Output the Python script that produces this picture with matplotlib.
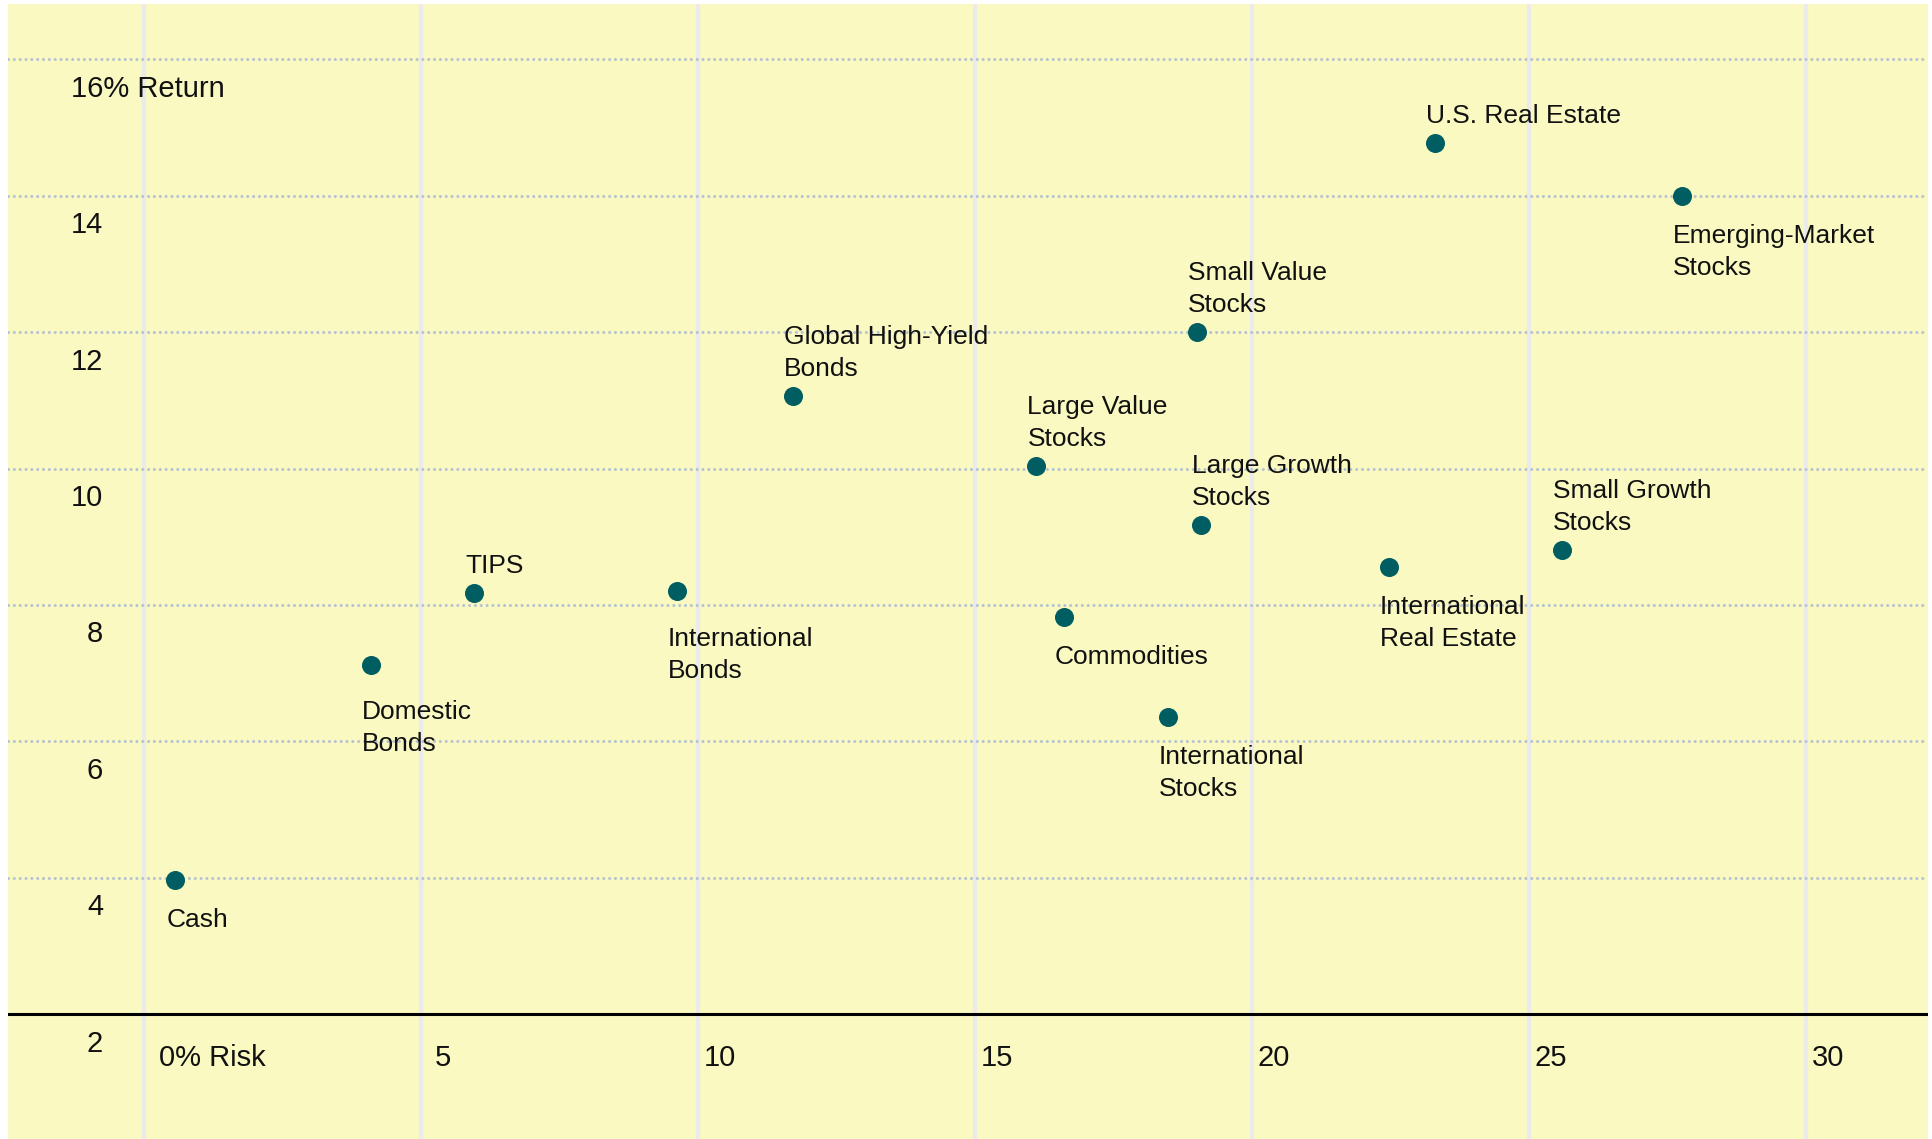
import matplotlib
matplotlib.use("Agg")
import matplotlib.pyplot as plt

plt.rcParams['font.family'] = ['Liberation Sans', 'DejaVu Sans']

# asset classes: annualised risk (std dev, %) vs return (%)
assets = ["Cash", "Domestic\nBonds", "TIPS", "International\nBonds",
          "Global High-Yield\nBonds", "Large Value\nStocks", "Commodities",
          "International\nStocks", "Small Value\nStocks", "Large Growth\nStocks",
          "International\nReal Estate", "Small Growth\nStocks",
          "U.S. Real Estate", "Emerging-Market\nStocks"]
risk = [0.56, 4.09, 5.96, 9.62, 11.71, 16.11, 16.61, 18.48, 19.01, 19.08,
        22.47, 25.60, 23.31, 27.76]
ret = [3.97, 7.12, 8.17, 8.20, 11.06, 10.03, 7.82, 6.35, 12.00, 9.17,
       8.56, 8.80, 14.77, 14.00]

x_ticks = [0, 5, 10, 15, 20, 25, 30]
x_labels = ["0% Risk", "5", "10", "15", "20", "25", "30"]
y_ticks = [2, 4, 6, 8, 10, 12, 14, 16]
y_labels = ["2", "4", "6", "8", "10", "12", "14", "16% Return"]

# which side of the dot each name sits on
above = {"TIPS", "Global High-Yield\nBonds", "Large Value\nStocks",
         "Small Value\nStocks", "Large Growth\nStocks", "Small Growth\nStocks",
         "U.S. Real Estate"}
extra_drop = {"Domestic\nBonds": 7, "International\nBonds": 8}

BG = '#FAF9C1'
TEAL = '#005E62'
PX = 0.72  # points per pixel at 100 dpi

fig = plt.figure(figsize=(19.33, 11.39), dpi=100)
ax = fig.add_axes([8 / 1933, 0, 1920 / 1933, 1135 / 1139])
ax.set_facecolor(BG)
ax.set_xlim(-2.46, 32.21)
ax.set_ylim(0.17, 16.81)
for s in ax.spines.values():
    s.set_visible(False)
ax.set_xticks([])
ax.set_yticks([])

for x in x_ticks:
    ax.axvline(x, color='#EBEBEB', lw=3, zorder=1)
for y in y_ticks[1:]:
    ax.axhline(y, color='#B6C2D2', lw=2.2, dashes=(0.01, 1.9),
               dash_capstyle='round', zorder=2)
ax.axhline(y_ticks[0], color='black', lw=2.2, zorder=3)

ax.scatter(risk, ret, s=13.7 ** 2, color=TEAL, linewidths=0, zorder=4)

for name, x, y in zip(assets, risk, ret):
    lines = name.split("\n")
    if name in above:
        offs = [20 + 32 * k for k in range(len(lines))][::-1]
    else:
        d = 47 + extra_drop.get(name, 0)
        offs = [-(d + 32 * k) for k in range(len(lines))]
    for line, dy in zip(lines, offs):
        ax.annotate(line, (x, y), xytext=(-9 * PX, dy * PX),
                    textcoords='offset points', ha='left', va='baseline',
                    fontsize=19, color='#111111', zorder=5)

# y labels sit just under their gridline, inside the plot
for y, lab in zip(y_ticks, y_labels):
    if " " in lab:
        ax.annotate(lab, (0, y), xytext=(-73 * PX, -37.5 * PX),
                    textcoords='offset points', ha='left', va='baseline',
                    fontsize=21, color='#111111', zorder=5)
    else:
        ax.annotate(lab, (0, y), xytext=(-41 * PX, -37.5 * PX),
                    textcoords='offset points', ha='right', va='baseline',
                    fontsize=21, color='#111111', zorder=5)

for x, lab in zip(x_ticks, x_labels):
    if " " in lab:
        ax.annotate(lab, (x, y_ticks[0]), xytext=(15 * PX, -52 * PX),
                    textcoords='offset points', ha='left', va='baseline',
                    fontsize=21, color='#111111', zorder=5)
    else:
        ax.annotate(lab, (x, y_ticks[0]), xytext=(22 * PX, -52 * PX),
                    textcoords='offset points', ha='center', va='baseline',
                    fontsize=21, color='#111111', zorder=5)

fig.savefig("out.png", dpi=100, facecolor='white')
